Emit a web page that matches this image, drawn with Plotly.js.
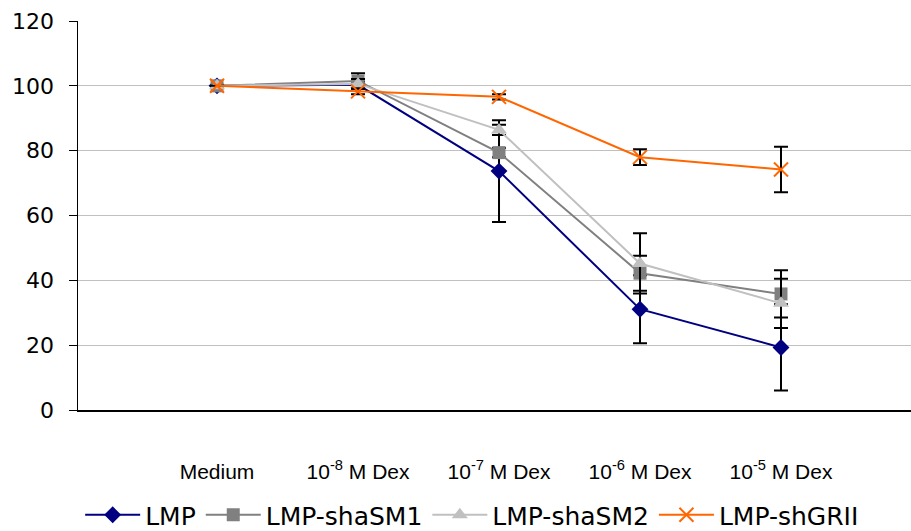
<!DOCTYPE html>
<html>
<head>
<meta charset="utf-8">
<script src="https://cdn.plot.ly/plotly-3.0.1.min.js"></script>
<style>
  html, body { margin: 0; padding: 0; background: #fff; }
  #chart { width: 911px; height: 531px; }
</style>
</head>
<body>
<div id="chart"></div>
<script>
// Dexamethasone dose series: relative values (% of medium) with error bars
const categories = ["Medium", "10<sup>-8</sup> M Dex", "10<sup>-7</sup> M Dex", "10<sup>-6</sup> M Dex", "10<sup>-5</sup> M Dex"];

const lmp      = [100, 100.3, 73.7, 31.1, 19.3];
const lmpErr   = [0, 1.0, 15.7, 10.5, 13.3];

const shaSM1    = [100, 101.5, 79.4, 42.2, 35.8];
const shaSM1Err = [0, 2.4, 1.4, 5.4, 7.3];

const shaSM2    = [100, 100.6, 86.4, 45.2, 32.9];
const shaSM2Err = [0, 1.5, 1.6, 9.3, 7.6];

const shGRII    = [100, 98.3, 96.6, 78.0, 74.2];
const shGRIIErr = [0, 0.9, 0.8, 2.4, 7.0];

const seriesNames = ["LMP", "LMP-shaSM1", "LMP-shaSM2", "LMP-shGRII"];

const xIdx = categories.map((_, i) => i);

function series(name, y, err, color, marker) {
  return {
    type: "scatter",
    mode: "lines+markers",
    name: name,
    x: xIdx,
    y: y,
    line: { color: color, width: 2 },
    marker: marker,
    error_y: { type: "data", array: err, visible: true, color: "#000000", thickness: 2, width: 7 },
    cliponaxis: false
  };
}

const traces = [
  series(seriesNames[0], lmp, lmpErr, "#000080",
    { symbol: "diamond", size: 13, color: "#000080" }),
  series(seriesNames[1], shaSM1, shaSM1Err, "#808080",
    { symbol: "square", size: 13, color: "#808080" }),
  series(seriesNames[2], shaSM2, shaSM2Err, "#C0C0C0",
    { symbol: "triangle-up", size: 14, color: "#C0C0C0" }),
  series(seriesNames[3], shGRII, shGRIIErr, "#FF6600",
    { symbol: "x-thin-open", size: 14, color: "#FF6600", line: { color: "#FF6600", width: 2 } })
];

const layout = {
  width: 911,
  height: 531,
  margin: { l: 78, r: 0, t: 21, b: 121, pad: 0 },
  paper_bgcolor: "#ffffff",
  plot_bgcolor: "#ffffff",
  showlegend: true,
  xaxis: {
    type: "linear",
    range: [-0.986, 4.922],
    tickmode: "array",
    tickvals: xIdx,
    ticktext: categories,
    ticks: "",
    showgrid: false,
    zeroline: false,
    showline: true,
    linecolor: "#000000",
    linewidth: 1.5,
    ticklabelstandoff: 42,
    tickfont: { family: "Liberation Sans, Arial, sans-serif", size: 21, color: "#000000" }
  },
  yaxis: {
    range: [0, 120],
    tickvals: [0, 20, 40, 60, 80, 100, 120],
    ticks: "outside",
    ticklen: 8,
    tickcolor: "#000000",
    tickwidth: 1,
    showgrid: true,
    gridcolor: "#C0C0C0",
    gridwidth: 1,
    zeroline: false,
    showline: true,
    linecolor: "#000000",
    linewidth: 1.5,
    ticklabelstandoff: 10,
    tickfont: { family: "DejaVu Sans, Verdana, sans-serif", size: 22, color: "#000000" }
  },
  legend: {
    orientation: "h",
    xref: "container",
    yref: "container",
    x: 0.088,
    xanchor: "left",
    y: 0.03,
    yanchor: "middle",
    font: { family: "DejaVu Sans, Verdana, sans-serif", size: 25, color: "#000000" },
    itemwidth: 55,
    tracegroupgap: 0,
    bgcolor: "rgba(0,0,0,0)"
  }
};

Plotly.newPlot("chart", traces, layout, { displayModeBar: false, staticPlot: true });
</script>
</body>
</html>
